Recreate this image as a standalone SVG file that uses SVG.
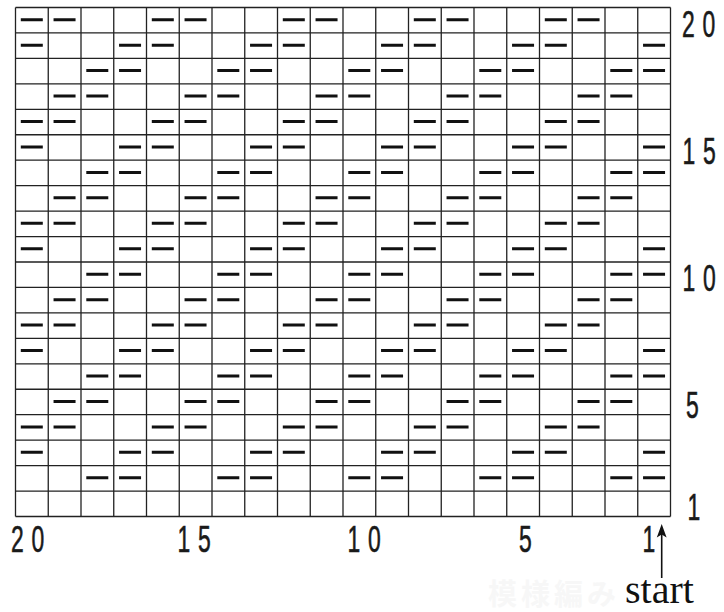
<svg xmlns="http://www.w3.org/2000/svg" xmlns:xlink="http://www.w3.org/1999/xlink" width="724" height="612" viewBox="0 0 724 612">
<style>
.grid{stroke:#222;stroke-width:1.3;fill:none}
.dash{stroke:#111;stroke-width:3;fill:none}
.num{font-family:"Liberation Sans",Arial,sans-serif;font-size:37px;fill:#1a1a1a;stroke:#1a1a1a;stroke-width:0.6;letter-spacing:12.5px}
.start{font-family:"Liberation Serif","Times New Roman",serif;font-size:40px;fill:#111}
.wm{font-family:"Noto Sans CJK JP",sans-serif;font-size:29px;font-weight:bold;fill:#f7f7f7;letter-spacing:4px}
</style>
<defs>
<path id="rowA" class="dash" d="M20.8 0h22M53.55 0h22M151.8 0h22M184.55 0h22M282.8 0h22M315.55 0h22M413.8 0h22M446.55 0h22M544.8 0h22M577.55 0h22"/>
<path id="rowB" class="dash" d="M20.8 0h22M119.05 0h22M151.8 0h22M250.05 0h22M282.8 0h22M381.05 0h22M413.8 0h22M512.05 0h22M544.8 0h22M643.05 0h22"/>
<path id="rowC" class="dash" d="M86.3 0h22M119.05 0h22M217.3 0h22M250.05 0h22M348.3 0h22M381.05 0h22M479.3 0h22M512.05 0h22M610.3 0h22M643.05 0h22"/>
<path id="rowD" class="dash" d="M53.55 0h22M86.3 0h22M184.55 0h22M217.3 0h22M315.55 0h22M348.3 0h22M446.55 0h22M479.3 0h22M577.55 0h22M610.3 0h22"/>
</defs>
<rect width="724" height="612" fill="#fff"/>
<text class="wm" x="488" y="605">模様編み</text>
<g id="grid">
<path class="grid" d="M15.5 7.5V516.5M48.25 7.5V516.5M81 7.5V516.5M113.75 7.5V516.5M146.5 7.5V516.5M179.25 7.5V516.5M212 7.5V516.5M244.75 7.5V516.5M277.5 7.5V516.5M310.25 7.5V516.5M343 7.5V516.5M375.75 7.5V516.5M408.5 7.5V516.5M441.25 7.5V516.5M474 7.5V516.5M506.75 7.5V516.5M539.5 7.5V516.5M572.25 7.5V516.5M605 7.5V516.5M637.75 7.5V516.5M670.5 7.5V516.5"/>
<path class="grid" d="M15.5 7.5H670.5M15.5 32.95H670.5M15.5 58.4H670.5M15.5 83.85H670.5M15.5 109.3H670.5M15.5 134.75H670.5M15.5 160.2H670.5M15.5 185.65H670.5M15.5 211.1H670.5M15.5 236.55H670.5M15.5 262H670.5M15.5 287.45H670.5M15.5 312.9H670.5M15.5 338.35H670.5M15.5 363.8H670.5M15.5 389.25H670.5M15.5 414.7H670.5M15.5 440.15H670.5M15.5 465.6H670.5M15.5 491.05H670.5M15.5 516.5H670.5"/>
</g>
<g id="stitches">
<use xlink:href="#rowA" href="#rowA" y="19.7"/>
<use xlink:href="#rowB" href="#rowB" y="45.15"/>
<use xlink:href="#rowC" href="#rowC" y="70.6"/>
<use xlink:href="#rowD" href="#rowD" y="96.05"/>
<use xlink:href="#rowA" href="#rowA" y="121.5"/>
<use xlink:href="#rowB" href="#rowB" y="146.95"/>
<use xlink:href="#rowC" href="#rowC" y="172.4"/>
<use xlink:href="#rowD" href="#rowD" y="197.85"/>
<use xlink:href="#rowA" href="#rowA" y="223.3"/>
<use xlink:href="#rowB" href="#rowB" y="248.75"/>
<use xlink:href="#rowC" href="#rowC" y="274.2"/>
<use xlink:href="#rowD" href="#rowD" y="299.65"/>
<use xlink:href="#rowA" href="#rowA" y="325.1"/>
<use xlink:href="#rowB" href="#rowB" y="350.55"/>
<use xlink:href="#rowC" href="#rowC" y="376"/>
<use xlink:href="#rowD" href="#rowD" y="401.45"/>
<use xlink:href="#rowA" href="#rowA" y="426.9"/>
<use xlink:href="#rowB" href="#rowB" y="452.35"/>
<use xlink:href="#rowC" href="#rowC" y="477.8"/>
</g>
<g id="row-numbers">
<text class="num" transform="translate(682,36.5) scale(0.62,1)">20</text>
<text class="num" transform="translate(682.5,163.5) scale(0.62,1)">15</text>
<text class="num" transform="translate(682.5,291) scale(0.62,1)">10</text>
<text class="num" transform="translate(686,418) scale(0.62,1)">5</text>
<text class="num" transform="translate(687.5,520) scale(0.62,1)">1</text>
</g>
<g id="column-numbers">
<text class="num" transform="translate(11,552) scale(0.62,1)">20</text>
<text class="num" transform="translate(177.5,552) scale(0.62,1)">15</text>
<text class="num" transform="translate(347.5,552) scale(0.62,1)">10</text>
<text class="num" transform="translate(519,552) scale(0.62,1)">5</text>
<text class="num" transform="translate(642.5,552) scale(0.62,1)">1</text>
</g>
<g id="start-marker">
<path d="M661.7 533V578" stroke="#111" stroke-width="1.6"/>
<path d="M661.7 524L666.6 537.5L661.7 534.5L656.8 537.5Z" fill="#111"/>
<text class="start" x="625" y="603">start</text>
</g>
</svg>
